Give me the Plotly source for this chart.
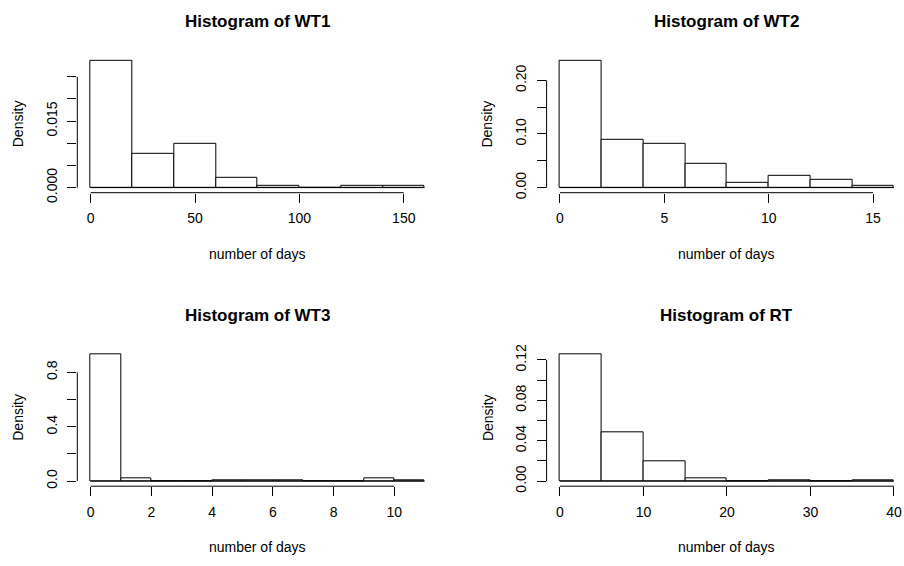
import plotly.graph_objects as go

# ---------------- data ----------------
titles = ["Histogram of WT1", "Histogram of WT2", "Histogram of WT3", "Histogram of RT"]

wt1_edges = [0, 20, 40, 60, 80, 100, 120, 140, 160]
wt1_density = [0.02858, 0.00768, 0.0098, 0.0022, 0.00044, 0.0, 0.00044, 0.00044]

wt2_edges = [0, 2, 4, 6, 8, 10, 12, 14, 16]
wt2_density = [0.2363, 0.0888, 0.0816, 0.0453, 0.0097, 0.0218, 0.0139, 0.0036]

wt3_edges = [0, 1, 2, 3, 4, 5, 6, 7, 8, 9, 10, 11]
wt3_density = [0.932, 0.017, 0.0, 0.0, 0.0085, 0.0085, 0.0085, 0.0, 0.0, 0.017, 0.0085]

rt_edges = [0, 5, 10, 15, 20, 25, 30, 35, 40]
rt_density = [0.1255, 0.0485, 0.0193, 0.0032, 0.0, 0.0012, 0.0, 0.0012]

x_ticks = [[0, 50, 100, 150], [0, 5, 10, 15], [0, 2, 4, 6, 8, 10], [0, 10, 20, 30, 40]]
y_ticks = [[0, 0.005, 0.010, 0.015, 0.020, 0.025],
           [0, 0.05, 0.10, 0.15, 0.20],
           [0, 0.2, 0.4, 0.6, 0.8],
           [0, 0.02, 0.04, 0.06, 0.08, 0.10, 0.12]]
y_ticktext = [["0.000", "", "", "0.015", "", ""],
              ["0.00", "", "0.10", "", "0.20"],
              ["0.0", "", "0.4", "", "0.8"],
              ["0.00", "", "0.04", "", "0.08", "", "0.12"]]
x_label = "number of days"
y_label = "Density"

panels = [(wt1_edges, wt1_density), (wt2_edges, wt2_density),
          (wt3_edges, wt3_density), (rt_edges, rt_density)]

# ---------------- layout geometry (pixels) ----------------
W, H = 904, 566
PLOT_W, PLOT_H = 360.7, 140.6
lefts = [77.3, 546.6, 77.3, 546.6]
tops = [52.2, 52.2, 353.7, 353.7]
FONT = "Liberation Sans, Arial, sans-serif"

fig = go.Figure()
layout = dict(width=W, height=H, margin=dict(l=0, r=0, t=0, b=0),
              paper_bgcolor="white", plot_bgcolor="white", showlegend=False,
              font=dict(family=FONT, size=14, color="black"), bargap=0)
annotations = []
shapes = []

for i, (edges, dens) in enumerate(panels):
    n = i + 1
    xa = "x" if n == 1 else f"x{n}"
    ya = "y" if n == 1 else f"y{n}"
    centers = [(a + b) / 2 for a, b in zip(edges[:-1], edges[1:])]
    widths = [b - a for a, b in zip(edges[:-1], edges[1:])]
    fig.add_trace(go.Bar(x=centers, y=dens, width=widths,
                         marker=dict(color="white", line=dict(color="black", width=1)),
                         xaxis=xa, yaxis=ya, hoverinfo="x+y"))
    # baseline (zero-height bins are drawn as lines in R)
    fig.add_trace(go.Scatter(x=[edges[0], edges[-1]], y=[0, 0], mode="lines",
                             line=dict(color="black", width=1), xaxis=xa, yaxis=ya,
                             hoverinfo="skip"))

    lo, hi = edges[0], edges[-1]
    pad = 0.04 * (hi - lo)
    xr = [lo - pad, hi + pad]
    left = lefts[i]
    right = left + PLOT_W
    if right > W:
        scale = (xr[1] - xr[0]) / PLOT_W
        xr[1] = xr[0] + (W - left) * scale
        right = W
    ymax = max(dens)
    yr = [-0.04 * ymax, 1.04 * ymax]
    top = tops[i]
    bottom = top + PLOT_H

    axkey_x = "xaxis" if n == 1 else f"xaxis{n}"
    axkey_y = "yaxis" if n == 1 else f"yaxis{n}"
    layout[axkey_x] = dict(domain=[left / W, right / W], range=xr, anchor=ya,
                           showgrid=False, zeroline=False, showline=False,
                           ticks="outside", ticklen=9, tickwidth=1, tickcolor="black",
                           tickvals=x_ticks[i], ticktext=[str(v) for v in x_ticks[i]],
                           ticklabelstandoff=4,
                           tickfont=dict(family=FONT, size=14, color="black"),
                           fixedrange=True)
    layout[axkey_y] = dict(domain=[1 - bottom / H, 1 - top / H], range=yr, anchor=xa,
                           showgrid=False, zeroline=False, showline=False,
                           ticks="outside", ticklen=9, tickwidth=1, tickcolor="black",
                           tickvals=y_ticks[i], ticktext=y_ticktext[i], tickangle=-90,
                           ticklabelstandoff=5,
                           tickfont=dict(family=FONT, size=14, color="black"),
                           fixedrange=True)
    # R-style detached axis lines spanning first..last tick
    shapes.append(dict(type="line", xref=xa, yref=f"{ya} domain",
                       x0=x_ticks[i][0], x1=x_ticks[i][-1], y0=0, y1=0,
                       line=dict(color="black", width=1)))
    shapes.append(dict(type="line", xref=f"{xa} domain", yref=ya,
                       x0=0, x1=0, y0=y_ticks[i][0], y1=y_ticks[i][-1],
                       line=dict(color="black", width=1)))

    cx = (left + PLOT_W / 2) / W
    annotations.append(dict(text=f"<b>{titles[i]}</b>", xref="paper", yref="paper",
                            x=cx, y=1 - (top - 35.2) / H, xanchor="center", yanchor="middle",
                            showarrow=False, font=dict(family=FONT, size=17, color="black")))
    annotations.append(dict(text=x_label, xref="paper", yref="paper",
                            x=cx, y=1 - (bottom + 62.8) / H, xanchor="center", yanchor="middle",
                            showarrow=False, font=dict(family=FONT, size=14, color="black")))
    annotations.append(dict(text=y_label, xref="paper", yref="paper", textangle=-90,
                            x=(left - 59.3) / W, y=1 - (top + PLOT_H / 2) / H,
                            xanchor="center", yanchor="middle",
                            showarrow=False, font=dict(family=FONT, size=14, color="black")))

layout["annotations"] = annotations
layout["shapes"] = shapes
fig.update_layout(**layout)
fig.write_html("out.html")
